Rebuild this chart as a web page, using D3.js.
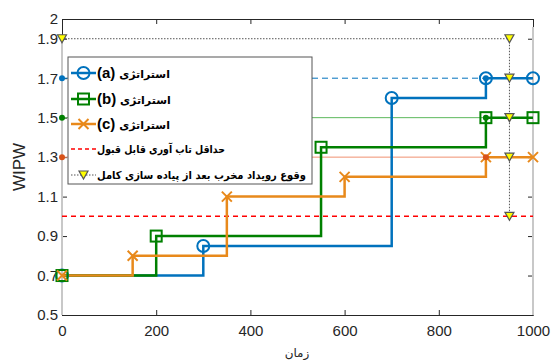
<!DOCTYPE html>
<html>
<head>
<meta charset="utf-8">
<script src="https://cdn.jsdelivr.net/npm/d3@7"></script>
<style>
  body { margin: 0; background: white; }
  svg { display: block; }
</style>
</head>
<body>
<div id="chart"></div>
<script>
let W = 553
let H = 360

// داده ها
let timeA = [0, 300, 700, 900, 1000]
let valA = [0.7, 0.85, 1.6, 1.7, 1.7]
let timeB = [0, 200, 550, 900, 1000]
let valB = [0.7, 0.9, 1.35, 1.5, 1.5]
let timeC = [0, 150, 350, 600, 900, 1000]
let valC = [0.7, 0.8, 1.1, 1.2, 1.3, 1.3]
let threshold = 1.0
let eventTime = 950
let eventLevels = [1.9, 1.7, 1.5, 1.3, 1.0]
let refLevels = [1.7, 1.5, 1.3]
let xTicks = [0, 200, 400, 600, 800, 1000]
let yTicks = [0.5, 0.7, 0.9, 1.1, 1.3, 1.5, 1.7, 1.9, 2]
let seriesNames = ["(a)", "(b)", "(c)"]
let legendLabels = ["استراتژی", "استراتژی", "استراتژی", "حداقل تاب آوری قابل قبول", "وقوع رویداد مخرب بعد از پیاده سازی کامل"]

let blue = "#0072BD", green = "#008000", orange = "#E8891B", red2 = "#D95319"

let svg = d3.select("#chart").append("svg")
    .attr("width", W).attr("height", H)
    .style("font-family", "'Liberation Sans', Arial, sans-serif")

let x = d3.scaleLinear().domain([0, 1000]).range([62, 533])
let y = d3.scaleLinear().domain([0.5, 2]).range([315, 19])

// محورها
let axisColor = "#262626"
let gx = svg.append("g").attr("transform", `translate(0,${y(0.5)})`)
    .call(d3.axisBottom(x).tickValues(xTicks).tickSizeInner(-5).tickSizeOuter(0).tickPadding(10).tickFormat(d3.format("d")))
let gxTop = svg.append("g").attr("transform", `translate(0,${y(2)})`)
    .call(d3.axisTop(x).tickValues(xTicks).tickSizeInner(-5).tickSizeOuter(0).tickFormat(""))
let gy = svg.append("g").attr("transform", `translate(${x(0)},0)`)
    .call(d3.axisLeft(y).tickValues(yTicks).tickSizeInner(-5).tickSizeOuter(0).tickPadding(4)
        .tickFormat(d => d === 2 ? "2" : d3.format(".1f")(d)))
let gyR = svg.append("g").attr("transform", `translate(${x(1000)},0)`)
    .call(d3.axisRight(y).tickValues(yTicks).tickSizeInner(-5).tickSizeOuter(0).tickFormat(""))
;[gx, gxTop, gy, gyR].forEach(g => {
    g.select(".domain").attr("stroke", axisColor)
    g.selectAll(".tick line").attr("stroke", axisColor)
    g.selectAll("text").attr("fill", axisColor).style("font-size", "15px")
        .style("font-family", "'Liberation Sans', Arial, sans-serif")
})

// خطوط خاکستری عمودی
svg.append("line").attr("x1", x(0)).attr("x2", x(0)).attr("y1", y(0.5)).attr("y2", y(1.9))
    .attr("stroke", "#c8c8c8").attr("stroke-width", 2)
svg.append("line").attr("x1", x(1000)).attr("x2", x(1000)).attr("y1", y(0.5)).attr("y2", y(1.96))
    .attr("stroke", "#c8c8c8").attr("stroke-width", 2)

// خطوط مرجع
let refColors = [blue, "#5cb85c", "#f09070"]
refLevels.forEach((v, i) => {
    svg.append("line").attr("x1", x(0)).attr("x2", x(900)).attr("y1", y(v)).attr("y2", y(v))
        .attr("stroke", refColors[i]).attr("stroke-width", 1)
        .attr("stroke-dasharray", i === 0 ? "6,4" : null)
})

// حداقل قابل قبول
svg.append("line").attr("x1", x(0)).attr("x2", x(1000)).attr("y1", y(threshold)).attr("y2", y(threshold))
    .attr("stroke", "#ff0000").attr("stroke-width", 1.5).attr("stroke-dasharray", "5,4")

// خط نقطه چین رویداد
svg.append("line").attr("x1", x(0)).attr("x2", x(eventTime)).attr("y1", y(1.9)).attr("y2", y(1.9))
    .attr("stroke", "#555").attr("stroke-width", 1).attr("stroke-dasharray", "1.5,1.5")
svg.append("line").attr("x1", x(eventTime)).attr("x2", x(eventTime)).attr("y1", y(1.9)).attr("y2", y(threshold))
    .attr("stroke", "#555").attr("stroke-width", 1).attr("stroke-dasharray", "1.5,1.5")

// سری ها
let series = [
    { t: timeA, v: valA, c: blue, m: "circle" },
    { t: timeB, v: valB, c: green, m: "square" },
    { t: timeC, v: valC, c: orange, m: "cross" }
]
let line = d3.line().x(d => x(d[0])).y(d => y(d[1])).curve(d3.curveStepAfter)

function drawMarker(g, type, cx, cy, color) {
    if (type === "circle") {
        g.append("circle").attr("cx", cx).attr("cy", cy).attr("r", 6)
            .attr("fill", "none").attr("stroke", color).attr("stroke-width", 2)
    } else if (type === "square") {
        g.append("rect").attr("x", cx - 5.5).attr("y", cy - 5.5).attr("width", 11).attr("height", 11)
            .attr("fill", "none").attr("stroke", color).attr("stroke-width", 2)
    } else if (type === "cross") {
        g.append("path").attr("d", `M${cx - 5},${cy - 5}L${cx + 5},${cy + 5}M${cx - 5},${cy + 5}L${cx + 5},${cy - 5}`)
            .attr("stroke", color).attr("stroke-width", 2)
    } else if (type === "tri") {
        g.append("path").attr("d", `M${cx - 4.5},${cy - 4}L${cx + 4.5},${cy - 4}L${cx},${cy + 4}Z`)
            .attr("fill", "#ffff00").attr("stroke", "#555").attr("stroke-width", 1.2)
    }
}

let plot = svg.append("g")
series.forEach(s => {
    let pts = s.t.map((t, i) => [t, s.v[i]])
    plot.append("path").attr("d", line(pts)).attr("fill", "none")
        .attr("stroke", s.c).attr("stroke-width", 2.5)
})
series.forEach(s => {
    s.t.forEach((t, i) => drawMarker(plot, s.m, x(t), y(s.v[i]), s.c))
})

// نقاط روی محور و در ۹۰۰
let dotColors = [blue, green, red2]
refLevels.forEach((v, i) => {
    svg.append("circle").attr("cx", x(0)).attr("cy", y(v)).attr("r", 3).attr("fill", dotColors[i])
    svg.append("circle").attr("cx", x(900)).attr("cy", y(v)).attr("r", 3).attr("fill", dotColors[i])
})

// مثلث ها
eventLevels.forEach(v => drawMarker(svg, "tri", x(eventTime), y(v)))
drawMarker(svg, "tri", x(0), y(1.9))

// راهنما
let lg = svg.append("g")
lg.append("rect").attr("x", 68).attr("y", 57).attr("width", 244).attr("height", 127)
    .attr("fill", "white").attr("stroke", "#555").attr("stroke-width", 1)
let rowY = [73, 99, 124, 149, 175]
series.forEach((s, i) => {
    lg.append("line").attr("x1", 71).attr("x2", 96).attr("y1", rowY[i]).attr("y2", rowY[i])
        .attr("stroke", s.c).attr("stroke-width", 2.5)
    drawMarker(lg, s.m, 83.5, rowY[i], s.c)
    let tx = lg.append("text").attr("x", 97).attr("y", rowY[i] + 5).attr("fill", "#000")
    tx.append("tspan").text(seriesNames[i]).style("font-size", "15px").style("font-weight", "bold")
        .style("font-family", "'Liberation Sans', Arial, sans-serif")
    tx.append("tspan").text(" " + legendLabels[i]).style("font-size", "11px").style("font-weight", "bold")
        .style("font-family", "'DejaVu Sans', sans-serif")
})
lg.append("line").attr("x1", 71).attr("x2", 96).attr("y1", rowY[3]).attr("y2", rowY[3])
    .attr("stroke", "#ff0000").attr("stroke-width", 1.5).attr("stroke-dasharray", "4,3")
lg.append("text").attr("x", 97).attr("y", rowY[3] + 4).text(legendLabels[3])
    .attr("textLength", 128).attr("lengthAdjust", "spacingAndGlyphs")
    .style("font-size", "11px").style("font-weight", "bold").style("font-family", "'DejaVu Sans', sans-serif")
lg.append("line").attr("x1", 71).attr("x2", 96).attr("y1", rowY[4]).attr("y2", rowY[4])
    .attr("stroke", "#555").attr("stroke-width", 1).attr("stroke-dasharray", "1.5,1.5")
drawMarker(lg, "tri", 83.5, rowY[4])
lg.append("text").attr("x", 97).attr("y", rowY[4] + 4).text(legendLabels[4])
    .attr("textLength", 209).attr("lengthAdjust", "spacingAndGlyphs")
    .style("font-size", "11px").style("font-weight", "bold").style("font-family", "'DejaVu Sans', sans-serif")

// عنوان محورها
svg.append("text").attr("transform", `translate(25,${(y(0.5) + y(2)) / 2}) rotate(-90)`)
    .attr("text-anchor", "middle").attr("fill", axisColor).style("font-size", "17px").text("WIPW")
svg.append("text").attr("x", 297).attr("y", 357).attr("text-anchor", "middle").attr("fill", axisColor)
    .style("font-size", "12px").style("font-family", "'DejaVu Sans', sans-serif").text("زمان")
</script>
</body>
</html>
